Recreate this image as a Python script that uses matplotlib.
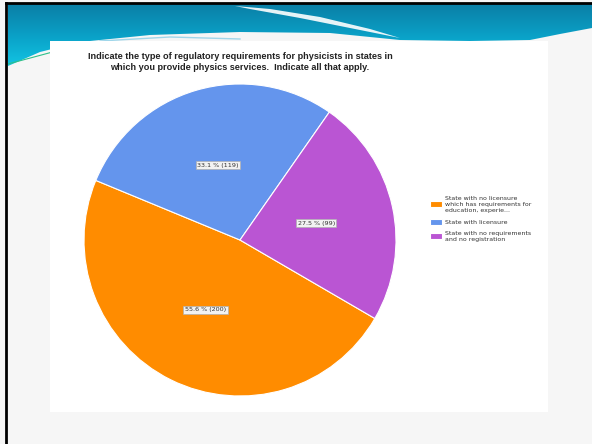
import numpy as np
import matplotlib.pyplot as plt
from matplotlib.patches import Polygon, Rectangle

# survey answers (counts) and the percentages shown on the slide
categories = ["State with no licensure\nwhich has requirements for\neducation, experie...",
              "State with licensure",
              "State with no requirements\nand no registration"]
counts = [200, 119, 99]
percents = [55.6, 33.1, 27.5]
colors = ["#ff8c00", "#6495ed", "#ba55d3"]

title = ("Indicate the type of regulatory requirements for physicists in states in\n"
         "which you provide physics services.  Indicate all that apply.")

W, H = 592, 444
fig = plt.figure(figsize=(W / 100, H / 100), dpi=100)
fig.patch.set_facecolor("#f6f6f6")

# slide decoration in pixel coordinates
bg = fig.add_axes([0, 0, 1, 1])
bg.set_xlim(0, W)
bg.set_ylim(H, 0)
bg.axis("off")

bx = [8, 40, 80, 150, 240, 330, 400, 470, 530, 560, 592]
by = [66, 52, 42, 35, 32, 33, 40, 41, 40, 34, 28]
banner = Polygon(list(zip([8, 592] + bx[::-1], [4, 4] + by[::-1])), closed=True,
                 facecolor="none", edgecolor="none")
bg.add_patch(banner)
grad = np.linspace(0, 1, 64).reshape(-1, 1)
img = bg.imshow(grad, extent=(0, W, 70, 4), cmap=plt.matplotlib.colors.LinearSegmentedColormap.from_list(
    "teal", ["#0b7fa6", "#0aa2c8", "#14c8e6"]), aspect="auto", zorder=1)
img.set_clip_path(banner)

# white swoosh across the banner
sw_x = [235, 270, 320, 370, 400, 360, 300, 250]
sw_y = [6, 9, 17, 29, 38, 30, 18, 9]
bg.add_patch(Polygon(list(zip(sw_x, sw_y)), closed=True, facecolor="white",
                     edgecolor="none", alpha=0.9, zorder=2))
bg.plot([100, 170, 240], [41, 37, 39], color="#9fd6ea", lw=1, zorder=2)
bg.plot([8, 60], [64, 50], color="#2ec08a", lw=0.8, zorder=2)

# chart area and slide frame
bg.add_patch(Rectangle((50, 41), 498, 371, facecolor="white", edgecolor="none", zorder=3))
bg.plot([6, 6], [3, H], color="black", lw=2, zorder=4)
bg.plot([6, W], [3.5, 3.5], color="black", lw=2, zorder=4)

fig.text(240 / W, 1 - 62 / H, title, ha="center", va="center", fontsize=6.6,
         fontweight="bold", family="Liberation Sans", color="#222222", linespacing=1.15)

# pie
cx, cy, r = 240, 240, 156
ax = fig.add_axes([(cx - r) / W, (H - cy - r) / H, 2 * r / W, 2 * r / H])
labels = [f"{p} % ({c})" for p, c in zip(percents, counts)]
wedges, texts = ax.pie(counts, colors=colors, labels=labels, startangle=-30.2,
                       counterclock=False, labeldistance=0.5,
                       wedgeprops=dict(edgecolor="white", linewidth=0.8),
                       textprops=dict(fontsize=4.6, color="#333333"))
for t in texts:
    t.set_ha("center")
    t.set_va("center")
    t.set_bbox(dict(boxstyle="square,pad=0.25", facecolor="#f2f2f2",
                    edgecolor="#b0b0b0", linewidth=0.5))
ax.set_xlim(-1, 1)
ax.set_ylim(-1, 1)
ax.set_aspect("equal")

leg = fig.legend(wedges, categories, loc="upper left", bbox_to_anchor=(424 / W, 1 - 190 / H),
                 frameon=False, fontsize=4.5, handlelength=2.0, handleheight=1.1,
                 labelspacing=0.9, handletextpad=0.5, labelcolor="#333333")
for t in leg.get_texts():
    t.set_linespacing(1.35)

fig.savefig("out.png", dpi=100, facecolor=fig.get_facecolor())
